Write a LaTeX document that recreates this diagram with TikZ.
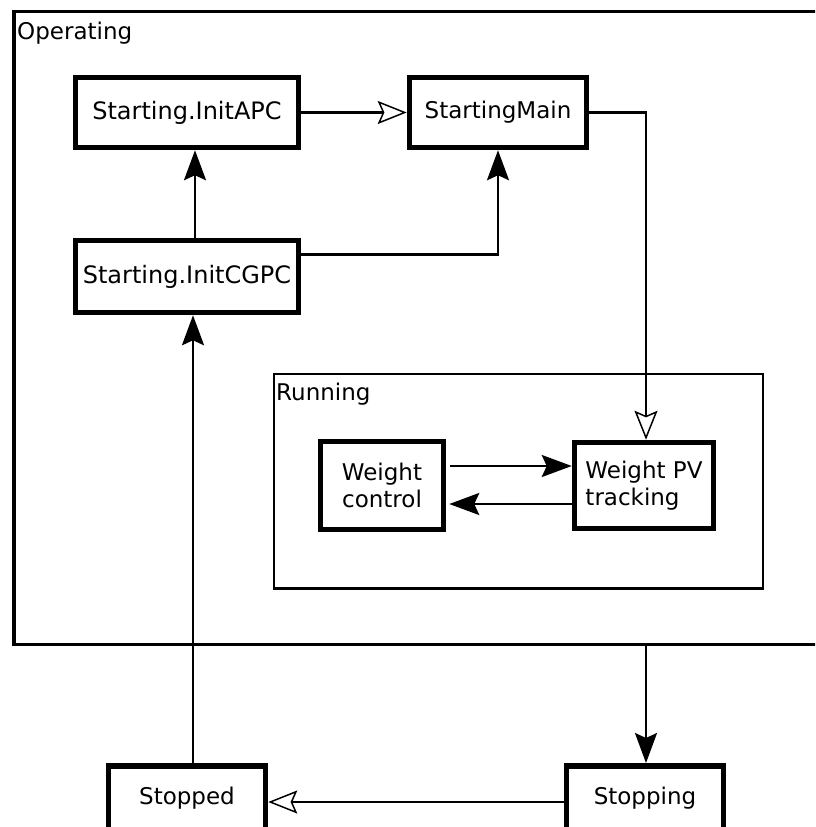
\documentclass[tikz,border=0pt]{standalone}
\usepackage{fontspec}
\setmainfont{DejaVu Sans}
\usetikzlibrary{arrows.meta}
\begin{document}
\begin{tikzpicture}[x=1pt,y=-1pt,
  every node/.style={font=\fontsize{23}{26.5}\selectfont},
  wide/.style={font=\fontsize{24}{27}\selectfont},
  state/.style={draw, rectangle, line width=5.5pt, inner sep=0pt},
  region/.style={draw, rectangle, inner sep=0pt},
  tag/.style={anchor=base west, inner sep=0pt},
  solidtip/.style={line width=2.3pt, -{Stealth[length=30pt,width=22pt,inset=5pt]}},
  opentip/.style={line width=2.3pt, -{Stealth[open,length=29pt,width=23pt,inset=5pt,line width=1.5pt,fill=white]}},
]
\clip (0,0) rectangle (815,827);
\fill[white] (0,0) rectangle (815,827);

% composite states
\node[region, line width=3.2pt, minimum width=826pt, minimum height=633pt] (op) at (427,327.8) {};
\node[tag] (oplabel) at (17,39) {Operating};
\node[region, line width=2.8pt, minimum width=489pt, minimum height=214.3pt] (run) at (518.5,481.2) {};
\node[tag] (runlabel) at (276,400) {Running};

% simple states
\node[state, wide, minimum width=223pt, minimum height=70pt] (apc) at (187,112.5) {Starting.InitAPC};
\node[state, wide, minimum width=223pt, minimum height=72pt] (cgpc) at (187,276.5) {Starting.InitCGPC};
\node[state, minimum width=177pt, minimum height=70pt] (main) at (498,112.5) {StartingMain};
\node[state, align=center, minimum width=123pt, minimum height=88pt] (wc) at (382,485.5) {Weight\\control};
\node[state, align=left, minimum width=139pt, minimum height=86pt] (pv) at (644,485.5) {Weight PV\\tracking};
\node[state, anchor=north, minimum width=157pt, text height=38.5pt, text depth=80pt] (stopped) at (187,763) {Stopped};
\node[state, anchor=north, minimum width=157pt, text height=38.5pt, text depth=80pt] (stopping) at (645,763) {Stopping};

% transitions
\draw[solidtip] ([xshift=8pt]cgpc.north) -- ([xshift=8pt]apc.south);
\draw[opentip] (apc.east) -- (main.west);
\draw[solidtip] ([yshift=22pt]cgpc.east) -| (main.south);
\draw[opentip] (main.east) -| ([xshift=2pt]pv.north);
\draw[solidtip] ([xshift=4pt,yshift=19.5pt]wc.east) -- ([yshift=19.5pt]pv.west);
\draw[solidtip, shorten >=3pt] ([yshift=-18.5pt]pv.west) -- ([yshift=-18.5pt]wc.east);
\draw[solidtip] ([xshift=1pt]stopping.north |- op.south) -- ([xshift=1pt]stopping.north);
\draw[solidtip] ([xshift=6pt]stopped.north) -- ([xshift=6pt]cgpc.south);
\draw[opentip] ([yshift=-39pt]stopping.north west) -- ([yshift=-39pt]stopped.north east);
\end{tikzpicture}
\end{document}
